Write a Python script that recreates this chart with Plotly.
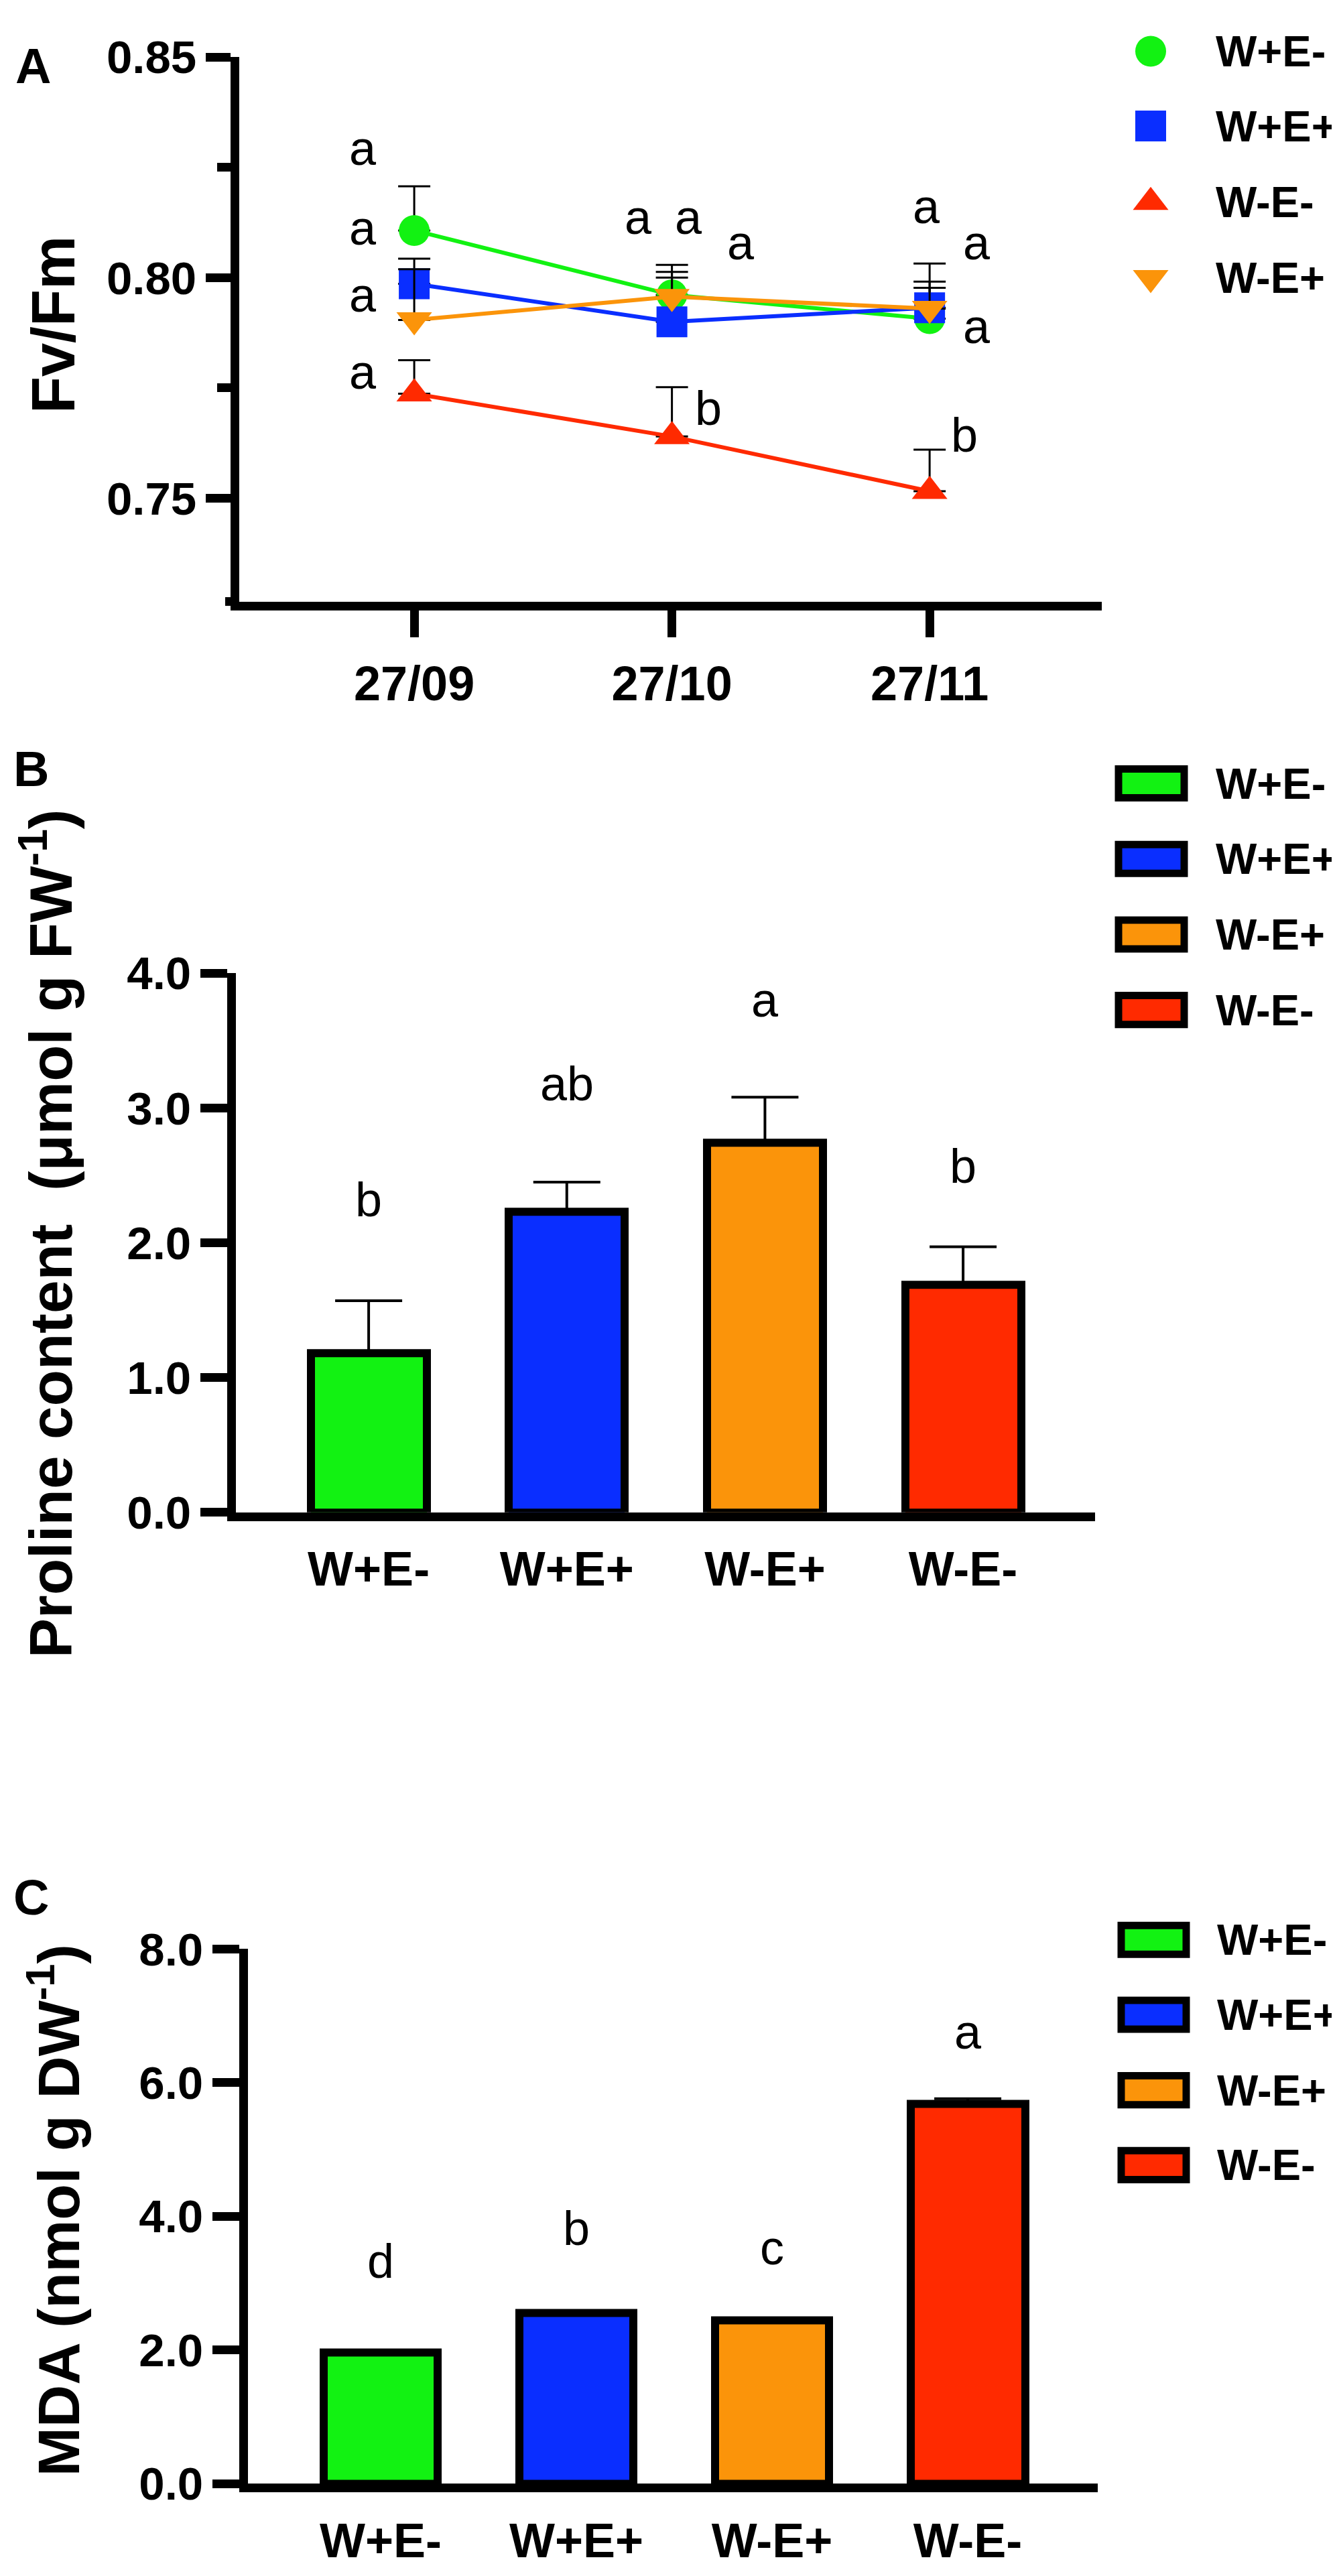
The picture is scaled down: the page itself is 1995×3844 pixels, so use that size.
import plotly.graph_objects as go

W, H = 1995, 3844
FONT = "Liberation Sans, Arial, sans-serif"

# ---- Panel A: Fv/Fm over time ----
dates = ["27/09", "27/10", "27/11"]
fv_names = ["W+E-", "W+E+", "W-E-", "W-E+"]
fv_colors = ["#12F212", "#0A2EFF", "#FF2A00", "#FB940A"]
fv_symbols = ["circle", "square", "triangle-up", "triangle-down"]
fv_green = [0.8107, 0.7961, 0.7907]
fv_green_err = [0.0100, 0.0052, 0.0125]
fv_blue = [0.7986, 0.7900, 0.7932]
fv_blue_err = [0.0057, 0.0129, 0.0059]
fv_red = [0.7737, 0.7640, 0.7516]
fv_red_err = [0.0076, 0.0112, 0.0094]
fv_orange = [0.7904, 0.7957, 0.7930]
fv_orange_err = [0.0115, 0.0043, 0.0047]
fv_ticks = [0.75, 0.80, 0.85]
fv_ticktext = ["0.75", "0.80", "0.85"]

fv_letters = ["a", "a", "a", "a", "a", "a", "a", "b", "a", "a", "a", "b"]
fv_letter_x = [-0.198, -0.198, -0.198, -0.198, 0.869, 1.066, 1.267, 1.142, 1.988, 2.182, 2.182, 2.135]
fv_letter_y = [0.8293, 0.8113, 0.7961, 0.7786, 0.8137, 0.8137, 0.8080, 0.7705, 0.8161, 0.8080, 0.7890, 0.7644]

# ---- Panels B and C: bars ----
groups = ["W+E-", "W+E+", "W-E+", "W-E-"]
bar_colors = ["#12F212", "#0A2EFF", "#FB940A", "#FF2A00"]

proline = [1.18, 2.23, 2.74, 1.69]
proline_err = [0.39, 0.22, 0.34, 0.28]
proline_letters = ["b", "ab", "a", "b"]
proline_letter_y = [2.32, 3.18, 3.80, 2.57]
proline_ticks = [0, 1, 2, 3, 4]
proline_ticktext = ["0.0", "1.0", "2.0", "3.0", "4.0"]

mda = [1.96, 2.55, 2.44, 5.68]
mda_err = [0.03, 0.04, 0.03, 0.08]
mda_letters = ["d", "b", "c", "a"]
mda_letter_y = [3.33, 3.82, 3.53, 6.76]
mda_ticks = [0, 2, 4, 6, 8]
mda_ticktext = ["0.0", "2.0", "4.0", "6.0", "8.0"]


def dom_x(a, b):
    return [a / W, b / W]


def dom_y(top, bottom):
    return [1 - bottom / H, 1 - top / H]


fig = go.Figure()

# line chart with upward error bars
series = [(fv_green, fv_green_err), (fv_blue, fv_blue_err),
          (fv_red, fv_red_err), (fv_orange, fv_orange_err)]
for (vals, errs), name, col, sym in zip(series, fv_names, fv_colors, fv_symbols):
    fig.add_trace(go.Scatter(
        x=dates, y=vals, name=name, mode="lines+markers",
        line=dict(color=col, width=6),
        marker=dict(color=col, symbol=sym, opacity=1, size=46),
        error_y=dict(type="data", symmetric=False, array=errs, arrayminus=[0] * len(errs),
                     color="black", thickness=3, width=24),
        xaxis="x", yaxis="y",
    ))

# bar charts
fig.add_trace(go.Bar(
    x=groups, y=proline, width=0.585,
    marker=dict(color=bar_colors, line=dict(color="black", width=12)),
    error_y=dict(type="data", symmetric=False, array=proline_err, arrayminus=[0] * 4,
                 color="black", thickness=4, width=50),
    xaxis="x2", yaxis="y2",
))
fig.add_trace(go.Bar(
    x=groups, y=mda, width=0.585,
    marker=dict(color=bar_colors, line=dict(color="black", width=12)),
    error_y=dict(type="data", symmetric=False, array=mda_err, arrayminus=[0] * 4,
                 color="black", thickness=4, width=50),
    xaxis="x3", yaxis="y3",
))

# legend markers for panel A, on a pixel overlay axis
leg_a_rows = [31, 145, 261, 376]
fig.add_trace(go.Scatter(
    x=[1709] * 4, y=leg_a_rows, mode="markers",
    marker=dict(color=fv_colors, symbol=fv_symbols, size=46, opacity=1),
    xaxis="x4", yaxis="y4", hoverinfo="skip",
))

ytickfont = dict(family=FONT, size=69, color="black", weight="bold")
xtickfont = dict(family=FONT, size=72, color="black", weight="bold")
base = dict(showline=True, linecolor="black", linewidth=13, showgrid=False, zeroline=False,
            tickcolor="black", tickwidth=13, fixedrange=True)

fig.update_layout(
    width=W, height=H,
    margin=dict(l=0, r=0, t=0, b=0),
    paper_bgcolor="white", plot_bgcolor="rgba(0,0,0,0)",
    showlegend=False,
    bargap=0,
    xaxis=dict(base, domain=dom_x(349, 1636), anchor="y", range=[-0.679, 2.668],
               type="category", ticks="outside", ticklen=40, tickfont=xtickfont,
               ticklabelstandoff=8),
    yaxis=dict(base, domain=dom_y(40, 869), anchor="x", range=[0.7266, 0.85],
               tickvals=fv_ticks, ticktext=fv_ticktext, ticks="outside", ticklen=37,
               tickfont=ytickfont,
               minor=dict(tickvals=[0.775, 0.825], ticks="outside", ticklen=20,
                          tickwidth=13, tickcolor="black")),
    xaxis2=dict(base, domain=dom_x(344, 1626), anchor="y2", range=[-0.670, 3.666],
                type="category", ticks="", tickfont=xtickfont, ticklabelstandoff=10),
    yaxis2=dict(base, domain=dom_y(1435, 2256), anchor="x2", range=[0, 4],
                tickvals=proline_ticks, ticktext=proline_ticktext, ticks="outside", ticklen=40,
                tickfont=ytickfont),
    xaxis3=dict(base, domain=dom_x(362, 1630), anchor="y3", range=[-0.678, 3.664],
                type="category", ticks="", tickfont=xtickfont, ticklabelstandoff=10),
    yaxis3=dict(base, domain=dom_y(2921, 3735), anchor="x3", range=[0, 8],
                tickvals=mda_ticks, ticktext=mda_ticktext, ticks="outside", ticklen=40,
                tickfont=ytickfont),
    xaxis4=dict(domain=[0, 1], range=[0, W], visible=False, anchor="y4", fixedrange=True),
    yaxis4=dict(domain=[0, 1], range=[H, 0], visible=False, anchor="x4", fixedrange=True),
)

annotations = []
letter_font = dict(family=FONT, size=72, color="black")
for t, x, y in zip(fv_letters, fv_letter_x, fv_letter_y):
    annotations.append(dict(text=t, x=x, y=y, xref="x", yref="y", showarrow=False, font=letter_font))
for i, (t, y) in enumerate(zip(proline_letters, proline_letter_y)):
    annotations.append(dict(text=t, x=i, y=y, xref="x2", yref="y2", showarrow=False, font=letter_font))
for i, (t, y) in enumerate(zip(mda_letters, mda_letter_y)):
    annotations.append(dict(text=t, x=i, y=y, xref="x3", yref="y3", showarrow=False, font=letter_font))

bold = dict(family=FONT, color="black", weight="bold")
# panel labels
for t, x, y in [("A", 41, 54), ("B", 38, 1124), ("C", 38, 2842)]:
    annotations.append(dict(text=t, x=x, y=y, xref="x4", yref="y4", showarrow=False,
                            font=dict(bold, size=74)))
# y-axis titles
for t, x, y, s in [("Fv/Fm", 72, 448, 90),
                   ("Proline content  (μmol g FW<sup>-1</sup>)", 62, 1832, 89),
                   ("MDA (nmol g DW<sup>-1</sup>)", 73, 3319, 88)]:
    annotations.append(dict(text=t, x=x, y=y, xref="x4", yref="y4", showarrow=False,
                            textangle=-90, font=dict(bold, size=s)))

# legend texts
for name, y in zip(fv_names, leg_a_rows):
    annotations.append(dict(text=name, x=1804, y=y, xref="x4", yref="y4", showarrow=False,
                            xanchor="left", font=dict(bold, size=65)))

shapes = []
leg_b_rows = [1146, 1261, 1376, 1491]
leg_c_rows = [2907, 3021, 3136, 3250]
for rows, x0, x1, tx in [(leg_b_rows, 1661, 1759, 1804), (leg_c_rows, 1665, 1762, 1806)]:
    for name, col, y in zip(groups, bar_colors, rows):
        shapes.append(dict(type="rect", xref="x4", yref="y4", x0=x0, x1=x1, y0=y - 22, y1=y + 22,
                           fillcolor=col, line=dict(color="black", width=11)))
        annotations.append(dict(text=name, x=tx, y=y, xref="x4", yref="y4", showarrow=False,
                                xanchor="left", font=dict(bold, size=65)))

# GraphPad-style stub of the x axis left of the y axis in panel A
shapes.append(dict(type="line", xref="x4", yref="y4", x0=328, x1=349, y0=869, y1=869,
                   line=dict(color="black", width=13)))

fig.update_layout(annotations=annotations, shapes=shapes)

fig.write_html("out.html")
